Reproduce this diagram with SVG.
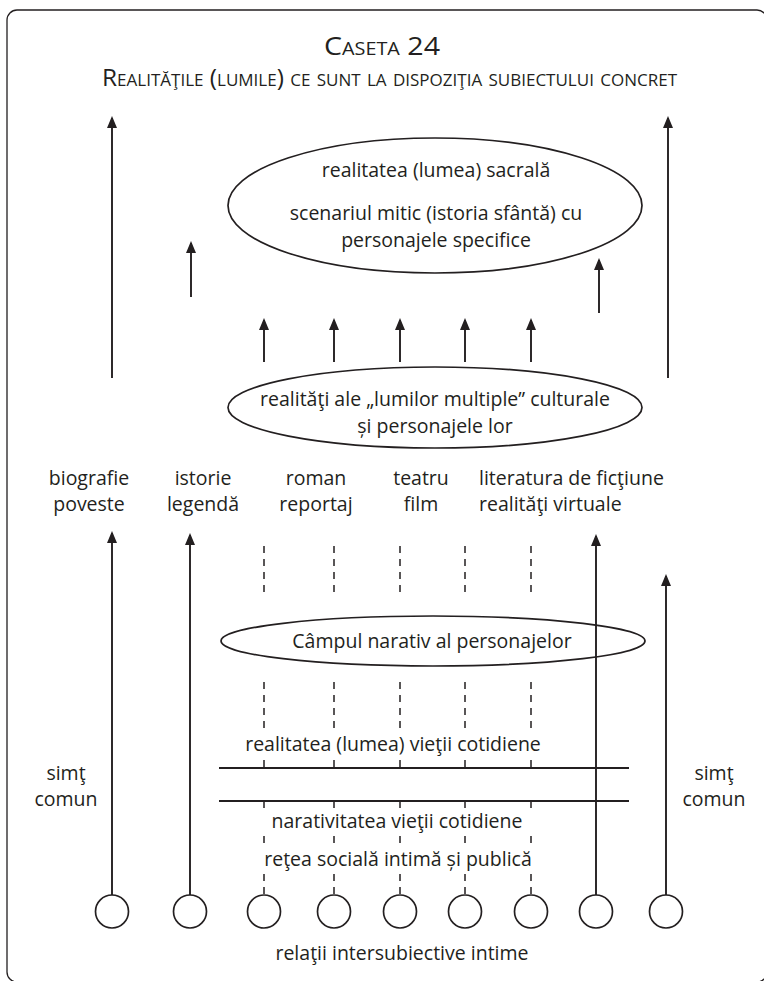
<svg xmlns="http://www.w3.org/2000/svg" width="764" height="981" viewBox="0 0 764 981">
<defs>
<marker id="ah" markerUnits="userSpaceOnUse" markerWidth="12" markerHeight="10" viewBox="0 0 12 10" refX="10" refY="5" orient="auto">
<path d="M0,0 L12,5 L0,10 z" fill="#231f20"/>
</marker>
</defs>
<style>
text { font-family: "Open Sans", "Noto Sans", sans-serif; font-size: 19.5px; fill: #231f20; }
.c { text-anchor: middle; }
.sc { font-variant: small-caps; }
.ln { stroke: #231f20; stroke-width: 2; fill: none; }
.arr { stroke: #231f20; stroke-width: 1.9; fill: none; marker-end: url(#ah); }
.dash { stroke: #231f20; stroke-width: 1.5; stroke-dasharray: 7 6; fill: none; }
.shape { fill: none; stroke: #231f20; stroke-width: 1.7; }
.frame { fill: none; stroke: #231f20; stroke-width: 1.3; }
</style>
<rect width="764" height="981" fill="#ffffff"/>
<rect class="frame" x="7" y="10" width="760" height="972" rx="10"/>

<g id="title">
<text class="sc" x="324" y="55" style="font-size:26px" textLength="116" lengthAdjust="spacingAndGlyphs">Caseta 24</text>
<text class="sc" x="102" y="86" style="font-size:23px" textLength="575" lengthAdjust="spacingAndGlyphs">Realităţile (lumile) ce sunt la dispoziţia subiectului concret</text>
</g>

<g id="connectors">
<path class="arr" d="M112,378 V118"/>
<path class="arr" d="M668,378 V118"/>
<path class="arr" d="M191,297 V243"/>
<path class="arr" d="M599,313 V260"/>
<path class="arr" d="M264,362 V320"/>
<path class="arr" d="M334,362 V320"/>
<path class="arr" d="M400,362 V320"/>
<path class="arr" d="M465,362 V320"/>
<path class="arr" d="M531,362 V320"/>
<path class="arr" d="M112,895 V533"/>
<path class="arr" d="M190,895 V535"/>
<path class="arr" d="M596,895 V536"/>
<path class="arr" d="M666,895 V576"/>
<path class="dash" d="M264,546 V592 M264,682 V728 M264,760 V768 M264,801 V808 M264,836 V843 M264,874 V881 M264,887 V895"/>
<path class="dash" d="M334,546 V592 M334,682 V728 M334,760 V768 M334,801 V808 M334,836 V843 M334,874 V881 M334,887 V895"/>
<path class="dash" d="M400,546 V592 M400,682 V728 M400,760 V768 M400,801 V808 M400,836 V843 M400,874 V881 M400,887 V895"/>
<path class="dash" d="M465,546 V592 M465,682 V728 M465,760 V768 M465,801 V808 M465,836 V843 M465,874 V881 M465,887 V895"/>
<path class="dash" d="M531,546 V592 M531,682 V728 M531,760 V768 M531,801 V808 M531,836 V843 M531,874 V881 M531,887 V895"/>
<path class="ln" d="M219,768 H629"/>
<path class="ln" d="M219,801 H629"/>
</g>

<g id="sacred">
<ellipse class="shape" cx="435" cy="205.5" rx="207" ry="67.5"/>
<text class="c" x="436" y="177">realitatea (lumea) sacrală</text>
<text class="c" x="436" y="220">scenariul mitic (istoria sfântă) cu</text>
<text class="c" x="436" y="246.5">personajele specifice</text>
</g>

<g id="multiple-worlds">
<ellipse class="shape" cx="435" cy="407.5" rx="207" ry="40.5"/>
<text class="c" x="435" y="406">realităţi ale „lumilor multiple” culturale</text>
<text class="c" x="435" y="432.5">și personajele lor</text>
</g>

<g id="label-biografie">
<text class="c" x="89" y="485">biografie</text>
<text class="c" x="89" y="511">poveste</text>
</g>
<g id="label-istorie">
<text class="c" x="203" y="485">istorie</text>
<text class="c" x="203" y="511">legendă</text>
</g>
<g id="label-roman">
<text class="c" x="316" y="485">roman</text>
<text class="c" x="316" y="511">reportaj</text>
</g>
<g id="label-teatru">
<text class="c" x="421" y="485">teatru</text>
<text class="c" x="421" y="511">film</text>
</g>
<g id="label-literatura">
<text x="479" y="485">literatura de ficţiune</text>
<text x="479" y="511">realităţi virtuale</text>
</g>

<g id="narrative-field">
<ellipse class="shape" cx="433" cy="641" rx="212" ry="25"/>
<text class="c" x="432" y="648">Câmpul narativ al personajelor</text>
</g>

<g id="everyday-world">
<text class="c" x="393" y="751">realitatea (lumea) vieţii cotidiene</text>
</g>
<g id="everyday-narrative">
<text class="c" x="397" y="828">narativitatea vieţii cotidiene</text>
</g>
<g id="social-network">
<text class="c" x="398" y="866">reţea socială intimă și publică</text>
</g>

<g id="common-sense-left">
<text class="c" x="66" y="780">simţ</text>
<text class="c" x="66" y="806">comun</text>
</g>
<g id="common-sense-right">
<text class="c" x="714" y="780">simţ</text>
<text class="c" x="714" y="806">comun</text>
</g>

<g id="subjects">
<circle class="shape" cx="112" cy="911.5" r="16.5"/>
<circle class="shape" cx="190" cy="911.5" r="16.5"/>
<circle class="shape" cx="264" cy="911.5" r="16.5"/>
<circle class="shape" cx="334" cy="911.5" r="16.5"/>
<circle class="shape" cx="400" cy="911.5" r="16.5"/>
<circle class="shape" cx="465" cy="911.5" r="16.5"/>
<circle class="shape" cx="531" cy="911.5" r="16.5"/>
<circle class="shape" cx="596" cy="911.5" r="16.5"/>
<circle class="shape" cx="666" cy="911.5" r="16.5"/>
<text class="c" x="402" y="960">relaţii intersubiective intime</text>
</g>
</svg>
